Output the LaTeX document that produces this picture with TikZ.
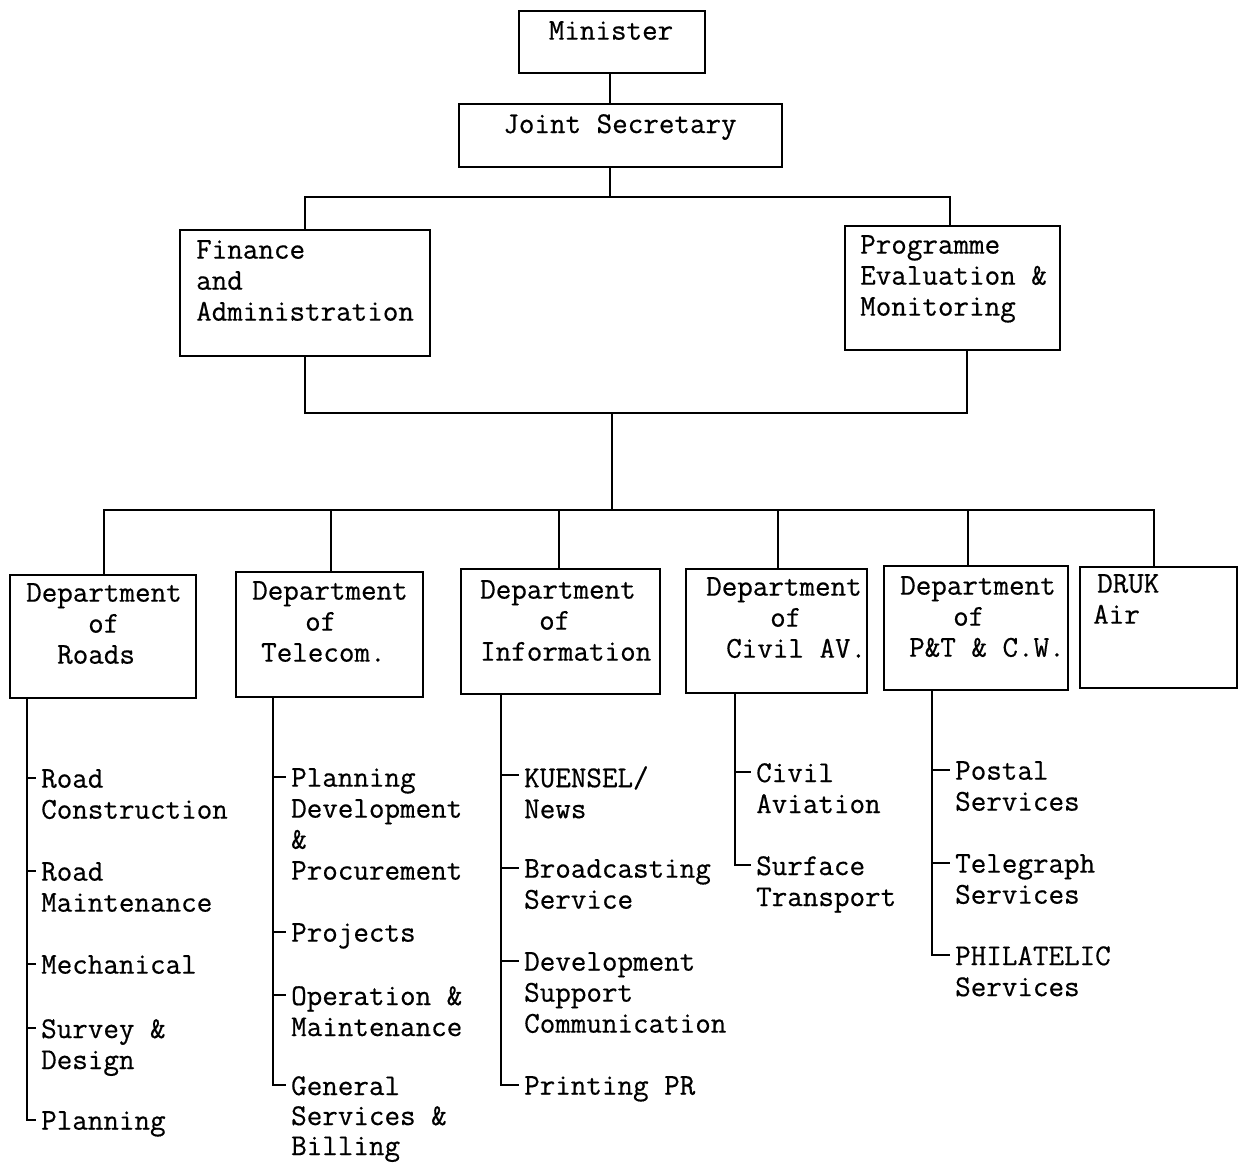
\documentclass[tikz,border=0pt]{standalone}
\usepackage{fontspec}
\newfontfamily\tfont[FakeBold=0.5]{Latin Modern Mono}
\usetikzlibrary{calc}
\tikzset{
 box/.style={draw, line width=1.6pt, rectangle, inner sep=0},
 txt/.style={anchor=north west, inner sep=0, align=left, font=\tfont\fontsize{30.2}{31}\selectfont},
 ln/.style={line width=1.6pt},
}
\newcommand\mytick[2]{\draw[ln] ($(#1.north west)+(-#2,9)$) -- ($(#1.north west)+(-5,9)$);}
\begin{document}
\begin{tikzpicture}[x=1pt,y=-1pt]
\useasboundingbox[fill=white] (0,0) rectangle (1238,1163);
% top boxes
\node[box, minimum width=186, minimum height=62] (min) at (612,42) {};
\node[txt, anchor=north] (mint) at (611,21) {Minister};
\node[box, minimum width=323, minimum height=63] (js) at (620.5,135.5) {};
\node[txt, anchor=north] (jst) at (620,114) {Joint Secretary};
\node[box, minimum width=250, minimum height=126] (fin) at (305,293) {};
\node[txt] (fint) at (196,240) {Finance\\and\\Administration};
\node[box, minimum width=215, minimum height=124] (prog) at (952.5,288) {};
\node[txt] (progt) at (860,235) {Programme\\Evaluation \&\\Monitoring};
% department boxes
\node[box, minimum width=186, minimum height=123] (roads) at (103,636.5) {};
\node[txt] (roadst) at (26,583) {Department\\\hspace*{62pt}of\\\hspace*{31pt}Roads};
\node[box, minimum width=187, minimum height=125] (tel) at (329.5,634.5) {};
\node[txt] (telt) at (252,581) {Department\\\hspace*{53pt}of\\\hspace*{9pt}Telecom.};
\node[box, minimum width=199, minimum height=125] (info) at (560.5,631.5) {};
\node[txt] (infot) at (480,580) {Department\\\hspace*{59pt}of\\Information};
\node[box, minimum width=181, minimum height=124] (civ) at (776.5,631) {};
\node[txt] (civt) at (706,577) {Department\\\hspace*{64pt}of\\\hspace*{20pt}Civil AV.};
\node[box, minimum width=184, minimum height=124] (pt) at (976,628) {};
\node[txt] (ptt) at (900,576) {Department\\\hspace*{53pt}of\\\hspace*{9pt}P\&T \& C.W.};
\node[box, minimum width=157, minimum height=121] (druk) at (1158.5,627.5) {};
\node[txt] (drukt) at (1097,574) {DRUK\\\hspace*{-4pt}Air};
% connectors top
\coordinate (j1) at (610,197);
\coordinate (pn) at (950,197);
\draw[ln] (min.south -| j1) -- (js.north -| j1);
\draw[ln] (js.south -| j1) -- (j1);
\draw[ln] (fin.north) |- (j1) -- (pn) -- (pn |- prog.north);
\coordinate (j2) at (612,413);
\coordinate (ps) at (967,413);
\draw[ln] (fin.south) |- (j2) -- (ps) -- (ps |- prog.south);
\coordinate (j3) at (612,510);
\draw[ln] (j2) -- (j3);
\coordinate (dl) at (104,510);
\coordinate (dr) at (1154,510);
\draw[ln] (dl |- roads.north) -- (dl) -- (dr) -- (dr |- druk.north);
\coordinate (d2) at (331,510);
\coordinate (d3) at (559,510);
\coordinate (d4) at (778,510);
\coordinate (d5) at (968,510);
\draw[ln] (d2) -- (d2 |- tel.north);
\draw[ln] (d3) -- (d3 |- info.north);
\draw[ln] (d4) -- (d4 |- civ.north);
\draw[ln] (d5) -- (d5 |- pt.north);
% Roads list
\node[txt] (r1) at (41,769) {Road\\Construction};
\node[txt] (r2) at (41,862) {Road\\Maintenance};
\node[txt] (r3) at (41,955) {Mechanical};
\node[txt] (r4) at (41,1019) {Survey \&\\Design};
\node[txt] (r5) at (41,1111) {Planning};
\coordinate (rv) at (27,0);
\draw[ln] (rv |- roads.south) |- ($(r5.north west)+(-5,9)$);
\mytick{r1}{14}\mytick{r2}{14}\mytick{r3}{14}\mytick{r4}{14}
% Telecom list
\node[txt] (t1) at (291,768) {Planning\\Development\\\&\\Procurement};
\node[txt] (t2) at (291,923) {Projects};
\node[txt] (t3) at (291,986) {Operation \&\\Maintenance};
\node[txt, font=\tfont\fontsize{30.2}{30}\selectfont] (t4) at (291,1076) {General\\Services \&\\Billing};
\coordinate (tv) at (273,0);
\draw[ln] (tv |- tel.south) |- ($(t4.north west)+(-5,9)$);
\mytick{t1}{18}\mytick{t2}{18}\mytick{t3}{18}
% Information list
\node[txt] (i1) at (524,766) {KUENSEL/\\News};
\node[txt] (i2) at (524,859) {Broadcasting\\Service};
\node[txt] (i3) at (524,952) {Development\\Support\\Communication};
\node[txt] (i4) at (524,1076) {Printing PR};
\coordinate (iv) at (501,0);
\draw[ln] (iv |- info.south) |- ($(i4.north west)+(-5,9)$);
\mytick{i1}{23}\mytick{i2}{23}\mytick{i3}{23}
% Civil list
\node[txt] (c1) at (756,763) {Civil\\Aviation};
\node[txt] (c2) at (756,856) {Surface\\Transport};
\coordinate (cv) at (735,0);
\draw[ln] (cv |- civ.south) |- ($(c2.north west)+(-5,9)$);
\mytick{c1}{21}
% P&T list
\node[txt] (p1) at (955,761) {Postal\\Services};
\node[txt] (p2) at (955,854) {Telegraph\\Services};
\node[txt] (p3) at (955,946) {PHILATELIC\\Services};
\coordinate (pv) at (932,0);
\draw[ln] (pv |- pt.south) |- ($(p3.north west)+(-5,9)$);
\mytick{p1}{23}\mytick{p2}{23}
\end{tikzpicture}
\end{document}
